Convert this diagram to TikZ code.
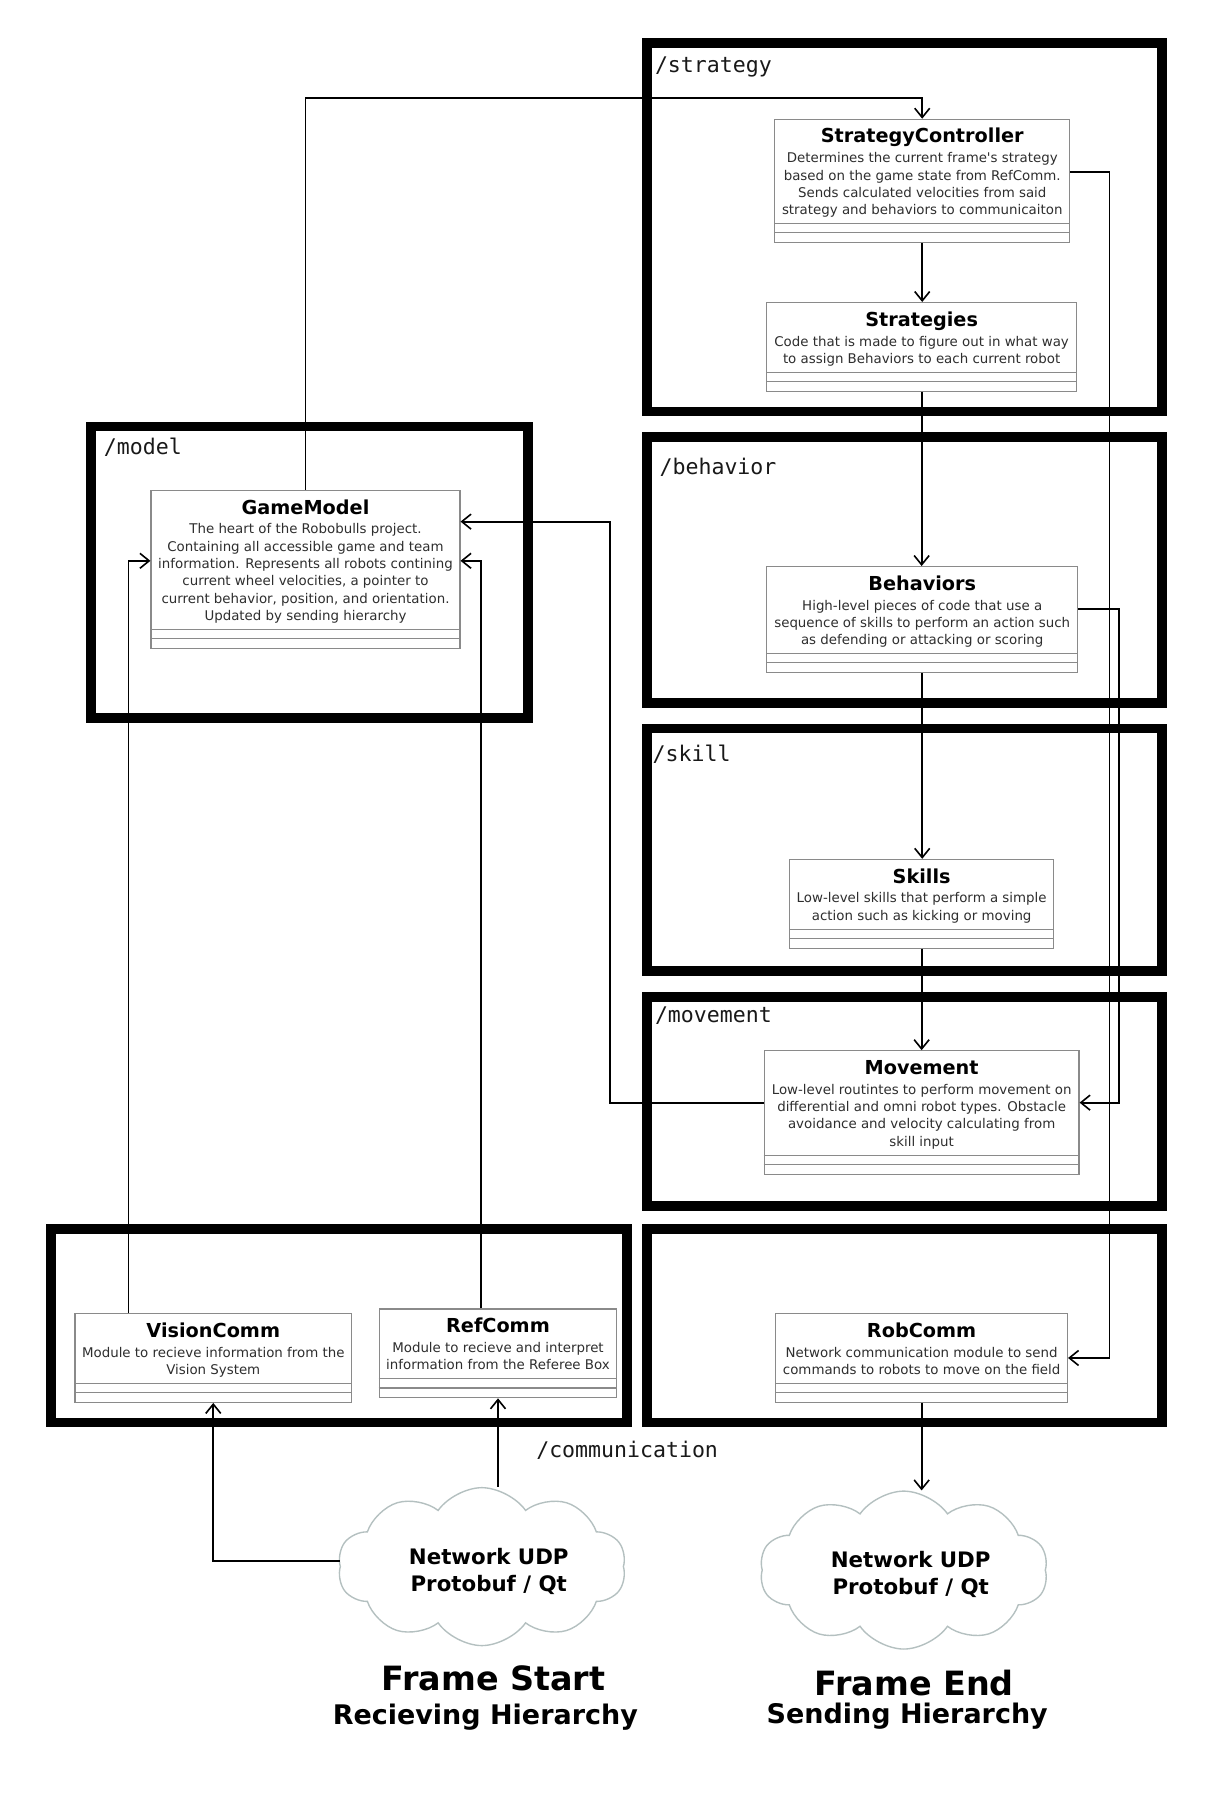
\documentclass[tikz,border=0pt]{standalone}
\usepackage{fontspec}
\setmainfont{DejaVu Sans}[Ligatures=TeXOff]
\newfontfamily\pathfont{DejaVu Sans Mono}
\usetikzlibrary{arrows.meta,shapes.symbols,calc}
\definecolor{boxgray}{HTML}{8A8A8A}
\definecolor{cloudgray}{HTML}{B4C0C0}
\definecolor{desccol}{HTML}{2E2E2E}
\newcommand\umlclass[7]{%
  \pgfmathsetmacro\umlh{47+15*#5}%
  \node[classbox, minimum width=#4pt, minimum height=\umlh pt, anchor=north] (#1) at (#2,#3) {};
  \node[titletext, anchor=base] (#1-title) at (#2,#3+21) {#6};
  \node[desctext, anchor=north] (#1-desc) at (#2,#3+27.5) {\strut #7};
  \draw[compline] ([yshift=17pt]#1.south west) -- ([yshift=17pt]#1.south east);
  \draw[compline] ([yshift=9pt]#1.south west) -- ([yshift=9pt]#1.south east);
}
\begin{document}
\begin{tikzpicture}[x=1pt,y=-1pt,
  frame/.style={draw=black, line width=8.5pt, line join=miter},
  classbox/.style={draw=boxgray, line width=1pt, fill=white, inner sep=0pt},
  titletext/.style={font=\fontsize{16.7}{20}\selectfont\bfseries, inner sep=0pt},
  desctext/.style={font=\fontsize{11.6}{15}\selectfont, text=desccol, align=center, inner sep=0pt},
  compline/.style={draw=boxgray, line width=1pt},
  pathlabel/.style={font=\pathfont\fontsize{18.7}{22}\selectfont, text=black!90, anchor=base west, inner sep=0pt},
  conn/.style={draw=black, line width=1.6pt, -{Straight Barb[length=8pt,width=13pt,line width=1.4pt]}},
  cloudshape/.style={cloud, cloud puffs=10, cloud puff arc=110, aspect=1.82, draw=cloudgray, line width=1.2pt, fill=white, minimum width=250pt, minimum height=137pt, inner sep=0pt},
  cloudtext/.style={font=\fontsize{18.5}{23}\selectfont\bfseries, align=center, inner sep=0pt},
  bigtitle/.style={font=\fontsize{29}{32}\selectfont\bfseries, inner sep=0pt},
  subtitle/.style={font=\fontsize{23.4}{26}\selectfont\bfseries, inner sep=0pt}
]
\fill[white] (0,0) rectangle (1055,1571);
\useasboundingbox (0,0) rectangle (1055,1571);

% package frames
\draw[frame] (561,37) rectangle (1008,357);
\draw[frame] (79,370) rectangle (458,623);
\draw[frame] (561,379) rectangle (1008,610);
\draw[frame] (561,632) rectangle (1008,842);
\draw[frame] (561,865) rectangle (1008,1046);
\draw[frame] (44,1066) rectangle (544,1234);
\draw[frame] (561,1066) rectangle (1008,1234);

\node[pathlabel] (lstrat) at (568,63) {/strategy};
\node[pathlabel] (lmodel) at (90,394) {/model};
\node[pathlabel] (lbeh) at (572,412) {/behavior};
\node[pathlabel] (lskill) at (566,661) {/skill};
\node[pathlabel] (lmov) at (568,887) {/movement};
\node[pathlabel] (lcomm) at (465,1264) {/communication};

% classes
\umlclass{sc}{800}{103}{256}{4}{StrategyController}{Determines the current frame's strategy\\based on the game state from RefComm.\\Sends calculated velocities from said\\strategy and behaviors to communicaiton}
\umlclass{str}{799.5}{262}{269}{2}{Strategies}{Code that is made to figure out in what way\\to assign Behaviors to each current robot}
\umlclass{gm}{265}{425}{268}{6}{GameModel}{The heart of the Robobulls project.\\Containing all accessible game and team\\information. Represents all robots contining\\current wheel velocities, a pointer to\\current behavior, position, and orientation.\\Updated by sending hierarchy}
\umlclass{beh}{800}{491}{270}{3}{Behaviors}{High-level pieces of code that use a\\sequence of skills to perform an action such\\as defending or attacking or scoring}
\umlclass{sk}{799.5}{745}{229}{2}{Skills}{Low-level skills that perform a simple\\action such as kicking or moving}
\umlclass{mov}{799.5}{911}{273}{4}{Movement}{Low-level routintes to perform movement on\\differential and omni robot types. Obstacle\\avoidance and velocity calculating from\\skill input}
\umlclass{vc}{185}{1139}{240}{2}{VisionComm}{Module to recieve information from the\\Vision System}
\umlclass{rc}{432}{1135}{206}{2}{RefComm}{Module to recieve and interpret\\information from the Referee Box}
\umlclass{rob}{799.5}{1139}{253}{2}{RobComm}{Network communication module to send\\commands to robots to move on the field}

% clouds
\node[cloudshape] (cl) at (418,1359) {};
\node[cloudtext] (cltext) at (424,1363) {Network UDP\\Protobuf / Qt};
\node[cloudshape] (cr) at (784,1362) {};
\node[cloudtext] (crtext) at (790,1366) {Network UDP\\Protobuf / Qt};

% bottom titles
\node[bigtitle] (fstart) at (428,1456) {Frame Start};
\node[subtitle] (recv) at (421,1490) {Recieving Hierarchy};
\node[bigtitle] (fend) at (793,1460) {Frame End};
\node[subtitle] (send) at (787,1489) {Sending Hierarchy};

% connectors
\draw[conn] (gm.north) |- ([yshift=18pt]sc.north) -- (sc.north);
\draw[conn] (sc.south) -- (sc.south |- str.north);
\draw[conn] (str.south) -- (str.south |- beh.north);
\draw[conn] (beh.south) -- (beh.south |- sk.north);
\draw[conn] (sk.south) -- (sk.south |- mov.north);
\draw[conn] ([yshift=7.5pt]sc.east) -- ++(34,0) |- (rob.east);
\draw[conn] ([yshift=9pt]beh.east) -- ++(35,0) |- ([yshift=8.5pt]mov.east);
\draw[conn] ([yshift=8.5pt]mov.west) -- ++(-133,0) |- ([yshift=41.5pt]gm.east);
\draw[conn] ([xshift=47pt]vc.north west) |- ([yshift=7.5pt]gm.west);
\draw[conn] ([xshift=89pt]rc.north west) |- ([yshift=7.5pt]gm.east);
\draw[conn] ([yshift=5pt]cl.west) -| (vc.south);
\draw[conn] (cl.north -| rc.south) -- (rc.south);
\draw[conn] (rob.south) -- (rob.south |- cr.north);
\end{tikzpicture}
\end{document}
